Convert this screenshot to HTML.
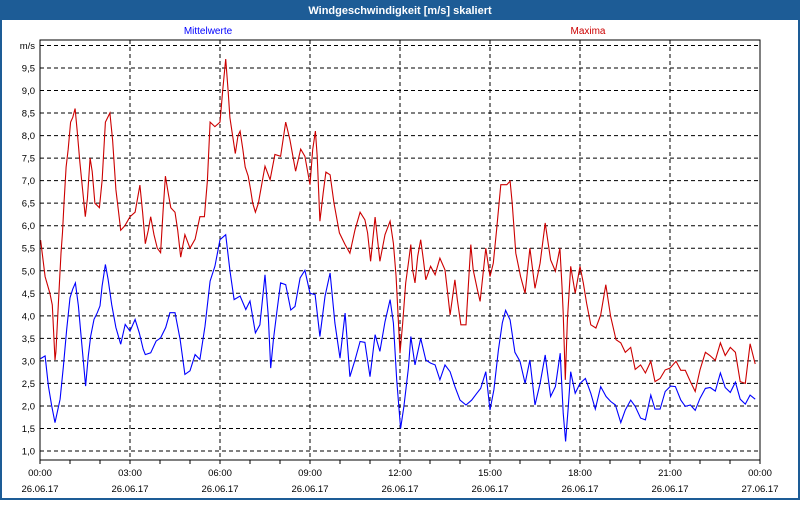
<!DOCTYPE html>
<html><head><meta charset="utf-8"><style>
body{margin:0;width:800px;height:500px;overflow:hidden;background:#fff;font-family:"Liberation Sans",sans-serif}
</style></head><body>
<svg id="chart" width="800" height="500" xmlns="http://www.w3.org/2000/svg" font-family="Liberation Sans, sans-serif">
<rect x="0" y="0" width="800" height="500" fill="#1d5c96"/>
<rect x="2" y="20" width="796" height="478" fill="#ffffff"/>
<text x="400" y="14" text-anchor="middle" fill="#ffffff" font-size="11" font-weight="bold">Windgeschwindigkeit [m/s] skaliert</text>
<text x="208" y="34" text-anchor="middle" fill="#0000ff" font-size="10">Mittelwerte</text>
<text x="588" y="34" text-anchor="middle" fill="#cc0000" font-size="10">Maxima</text>
<text x="35" y="49" text-anchor="end" fill="#000" font-size="9.5">m/s</text>
<g id="grid"></g>
<g id="series"></g>
<rect x="40" y="40" width="720" height="420" fill="none" stroke="#000" stroke-width="1"/>
<g id="axes"></g>
</svg>
<script>
const yTicks=[1.0,1.5,2.0,2.5,3.0,3.5,4.0,4.5,5.0,5.5,6.0,6.5,7.0,7.5,8.0,8.5,9.0,9.5,10.0];
const xTickHours=[0,3,6,9,12,15,18,21,24];
const xTickLabels=["00:00","03:00","06:00","09:00","12:00","15:00","18:00","21:00","00:00"];
const xDateLabels=["26.06.17","26.06.17","26.06.17","26.06.17","26.06.17","26.06.17","26.06.17","26.06.17","27.06.17"];
const redHours=[0.02,0.17,0.33,0.41,0.5,0.53,0.63,0.7,0.75,0.8,0.87,0.94,1.02,1.09,1.17,1.24,1.33,1.42,1.51,1.58,1.67,1.74,1.83,1.98,2.07,2.18,2.33,2.42,2.53,2.62,2.69,2.83,3.0,3.17,3.33,3.42,3.51,3.61,3.69,3.8,3.91,4.02,4.1,4.18,4.28,4.36,4.5,4.59,4.69,4.83,5.0,5.17,5.33,5.48,5.58,5.67,5.83,6.0,6.09,6.19,6.27,6.33,6.42,6.51,6.6,6.67,6.76,6.84,6.94,7.02,7.09,7.18,7.28,7.33,7.5,7.67,7.83,8.02,8.19,8.33,8.52,8.69,8.83,9.0,9.09,9.18,9.24,9.33,9.44,9.53,9.67,9.8,9.98,10.17,10.33,10.5,10.67,10.83,10.92,11.02,11.17,11.33,11.5,11.67,11.78,11.87,12.0,12.09,12.19,12.28,12.36,12.42,12.5,12.59,12.69,12.78,12.86,13.02,13.17,13.33,13.5,13.59,13.67,13.83,13.91,14.03,14.2,14.36,14.44,14.58,14.67,14.86,15.0,15.11,15.22,15.36,15.56,15.67,15.74,15.86,16.02,16.17,16.33,16.5,16.67,16.84,17.02,17.18,17.33,17.4,17.44,17.51,17.58,17.69,17.84,18.0,18.11,18.22,18.36,18.53,18.69,18.86,19.02,19.2,19.36,19.51,19.69,19.84,20.02,20.18,20.36,20.5,20.67,20.84,21.0,21.2,21.36,21.51,21.68,21.84,22.0,22.18,22.33,22.51,22.68,22.84,23.01,23.18,23.34,23.51,23.67,23.84];
const redVals=[5.68,4.87,4.5,4.24,3.02,3.2,4.5,5.39,5.85,6.5,7.3,7.7,8.3,8.4,8.6,8.1,7.4,6.8,6.2,6.6,7.5,7.2,6.5,6.4,7.0,8.3,8.5,7.9,6.8,6.3,5.9,6.0,6.2,6.3,6.9,6.3,5.6,5.9,6.2,5.8,5.5,5.4,6.3,7.1,6.7,6.4,6.3,5.9,5.3,5.8,5.5,5.7,6.2,6.2,7.0,8.3,8.2,8.3,9.0,9.7,9.0,8.4,8.0,7.6,8.0,8.1,7.7,7.3,7.1,6.8,6.5,6.3,6.5,6.69,7.32,7.02,7.58,7.54,8.3,7.91,7.21,7.7,7.54,6.91,7.69,8.1,7.54,6.1,6.73,7.19,7.13,6.5,5.84,5.58,5.39,5.91,6.3,6.13,5.84,5.21,6.19,5.21,5.8,6.1,5.61,4.87,3.17,3.84,4.73,5.17,5.58,5.02,4.73,5.32,5.69,5.24,4.8,5.1,4.91,5.28,5.02,4.5,4.02,4.8,4.36,3.8,3.8,5.58,5.02,4.58,4.32,5.5,4.87,5.17,5.91,6.91,6.91,6.99,6.5,5.39,4.87,4.5,5.5,4.61,5.17,6.06,5.24,4.99,5.5,4.65,4.06,2.58,3.91,5.1,4.5,5.1,4.73,4.28,3.8,3.73,4.02,4.69,3.99,3.47,3.4,3.19,3.3,2.81,2.91,2.73,2.99,2.54,2.61,2.8,2.84,2.99,2.79,2.79,2.54,2.32,2.8,3.19,3.12,3.01,3.4,3.12,3.3,3.19,2.54,2.5,3.38,2.93];
const blueHours=[0.02,0.17,0.28,0.39,0.5,0.67,0.78,0.89,1.0,1.09,1.18,1.28,1.36,1.44,1.52,1.61,1.69,1.8,1.91,2.0,2.07,2.18,2.27,2.39,2.53,2.69,2.84,3.0,3.17,3.31,3.44,3.51,3.69,3.87,4.02,4.19,4.33,4.5,4.67,4.83,5.0,5.17,5.33,5.5,5.67,5.83,6.0,6.19,6.33,6.47,6.67,6.86,7.0,7.18,7.33,7.5,7.61,7.69,7.78,7.89,8.02,8.19,8.36,8.5,8.67,8.83,9.0,9.17,9.33,9.5,9.67,9.83,10.0,10.17,10.33,10.5,10.67,10.83,11.0,11.17,11.33,11.5,11.67,11.78,11.89,12.02,12.13,12.28,12.36,12.5,12.69,12.86,13.02,13.17,13.33,13.5,13.67,13.83,14.0,14.2,14.39,14.56,14.69,14.86,15.0,15.13,15.28,15.41,15.52,15.67,15.83,16.0,16.17,16.33,16.5,16.67,16.84,17.02,17.18,17.34,17.44,17.52,17.61,17.69,17.84,18.0,18.18,18.36,18.51,18.69,18.87,19.02,19.18,19.36,19.51,19.69,19.84,20.02,20.18,20.36,20.5,20.67,20.84,21.02,21.18,21.36,21.51,21.68,21.84,22.0,22.18,22.34,22.51,22.68,22.84,23.01,23.18,23.34,23.51,23.67,23.84];
const blueVals=[3.05,3.11,2.44,2.0,1.63,2.15,2.88,3.7,4.4,4.59,4.73,4.22,3.62,3.03,2.44,3.11,3.55,3.92,4.07,4.22,4.66,5.14,4.81,4.25,3.74,3.37,3.81,3.66,3.92,3.62,3.26,3.14,3.18,3.44,3.51,3.74,4.07,4.07,3.48,2.7,2.78,3.14,3.03,3.77,4.77,5.1,5.69,5.8,5.01,4.36,4.44,4.14,4.33,3.62,3.8,4.91,3.99,2.84,3.47,4.06,4.73,4.69,4.13,4.21,4.84,5.01,4.5,4.47,3.54,4.43,4.95,3.84,3.06,4.06,2.65,3.02,3.43,3.41,2.65,3.58,3.21,3.87,4.36,3.84,2.58,1.5,1.99,2.84,3.54,2.91,3.5,3.02,2.95,2.91,2.58,2.91,2.76,2.43,2.13,2.02,2.13,2.28,2.39,2.76,1.91,2.36,3.24,3.84,4.12,3.91,3.19,2.99,2.5,3.02,2.02,2.5,3.13,2.21,2.43,3.17,1.84,1.21,1.99,2.76,2.28,2.5,2.61,2.28,1.93,2.43,2.21,2.1,2.02,1.63,1.91,2.13,1.99,1.73,1.69,2.24,1.93,1.93,2.32,2.44,2.43,2.13,1.99,2.02,1.9,2.17,2.39,2.41,2.33,2.73,2.41,2.3,2.53,2.15,2.04,2.24,2.15];

const NS="http://www.w3.org/2000/svg";
function xS(h){return 40+h*30;}
function yS(v){return 451-(v-1)*45.06;}
function mk(tag,attrs,parent){const e=document.createElementNS(NS,tag);for(const k in attrs)e.setAttribute(k,attrs[k]);parent.appendChild(e);return e;}
const grid=document.getElementById('grid'),axes=document.getElementById('axes'),series=document.getElementById('series');
yTicks.forEach(v=>{
  const l=mk('line',{x1:40,x2:760,y1:yS(v),y2:yS(v),stroke:'#000','stroke-dasharray':'4,3','stroke-width':1},grid);
  
  
  if(v<10){
    const t=mk('text',{x:35,y:yS(v)+3.5,'text-anchor':'end','font-size':'9.5',fill:'#000'},axes);
    t.textContent=v.toFixed(1).replace('.',',');
    
    
  }
});
xTickHours.forEach((h,i)=>{
  if(h>0&&h<24){
    const l=mk('line',{x1:xS(h),x2:xS(h),y1:40,y2:460,stroke:'#000','stroke-dasharray':'4,3','stroke-width':1},grid);
    
    
  }
  const t=mk('text',{x:xS(h),y:476,'text-anchor':'middle','font-size':'9.5',fill:'#000'},axes);
  t.textContent=xTickLabels[i];
  
  
  const d=mk('text',{x:xS(h),y:492,'text-anchor':'middle','font-size':'9.5',fill:'#000'},axes);
  d.textContent=xDateLabels[i];
  
  
});
for(let h=0;h<=24;h++){
  const m=mk('line',{x1:xS(h),x2:xS(h),y1:460,y2:464,stroke:'#000'},axes);
  
  
}
function line(hs,vs,color,name){
  const p=mk('polyline',{points:hs.map((h,i)=>xS(h).toFixed(1)+','+yS(vs[i]).toFixed(1)).join(' '),fill:'none',stroke:color,'stroke-width':1.1},series);
  
  
}
line(redHours,redVals,'#cc0000','maxima-line');
line(blueHours,blueVals,'#0000ff','mittelwerte-line');
</script>
</body></html>
